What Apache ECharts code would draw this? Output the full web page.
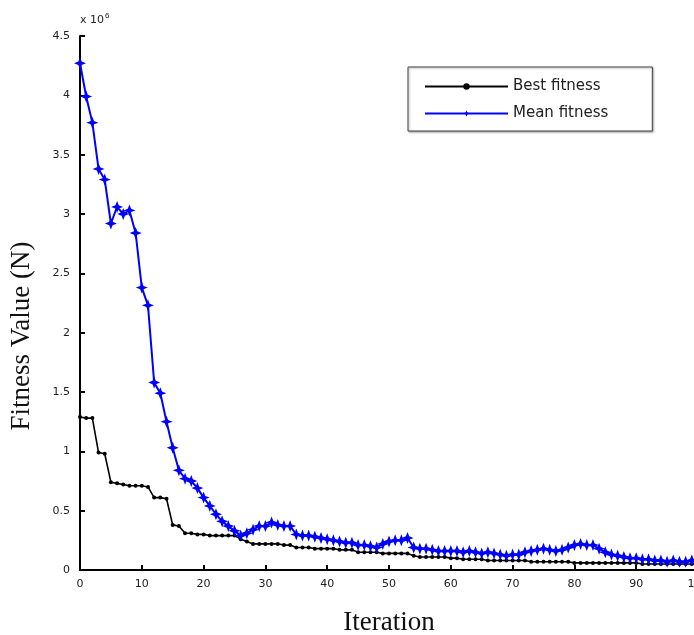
<!DOCTYPE html>
<html>
<head>
<meta charset="utf-8">
<script src="https://cdn.jsdelivr.net/npm/echarts@6/dist/echarts.min.js"></script>
<style>
  html, body { margin: 0; padding: 0; background: #fff; }
  #chart { width: 694px; height: 635px; }
</style>
</head>
<body>
<div id="chart"></div>
<script>
// iteration index 0..100, values in units of 10^6 N
const bestFitness = [
  1.29, 1.28, 1.28, 0.99, 0.98, 0.74, 0.73, 0.72, 0.71, 0.71,
  0.71, 0.70, 0.61, 0.61, 0.60, 0.38, 0.37, 0.31, 0.31, 0.30,
  0.30, 0.29, 0.29, 0.29, 0.29, 0.29, 0.26, 0.24, 0.22, 0.22,
  0.22, 0.22, 0.22, 0.21, 0.21, 0.19, 0.19, 0.19, 0.18, 0.18,
  0.18, 0.18, 0.17, 0.17, 0.17, 0.15, 0.15, 0.15, 0.15, 0.14,
  0.14, 0.14, 0.14, 0.14, 0.12, 0.11, 0.11, 0.11, 0.11, 0.11,
  0.10, 0.10, 0.09, 0.09, 0.09, 0.09, 0.08, 0.08, 0.08, 0.08,
  0.08, 0.08, 0.08, 0.07, 0.07, 0.07, 0.07, 0.07, 0.07, 0.07,
  0.06, 0.06, 0.06, 0.06, 0.06, 0.06, 0.06, 0.06, 0.06, 0.06,
  0.06, 0.05, 0.05, 0.05, 0.05, 0.05, 0.05, 0.05, 0.05, 0.05,
  0.05
];
const meanFitness = [
  4.27, 3.99, 3.77, 3.38, 3.29, 2.92, 3.06, 3.00, 3.03, 2.84,
  2.38, 2.23, 1.58, 1.49, 1.25, 1.03, 0.84, 0.77, 0.75, 0.69,
  0.61, 0.54, 0.47, 0.41, 0.37, 0.33, 0.29, 0.31, 0.34, 0.37,
  0.37, 0.40, 0.38, 0.37, 0.37, 0.30, 0.29, 0.29, 0.28, 0.27,
  0.26, 0.25, 0.24, 0.23, 0.23, 0.21, 0.21, 0.20, 0.19, 0.22,
  0.24, 0.25, 0.25, 0.27, 0.19, 0.18, 0.18, 0.17, 0.16, 0.16,
  0.16, 0.16, 0.15, 0.16, 0.15, 0.14, 0.15, 0.14, 0.13, 0.12,
  0.13, 0.13, 0.15, 0.16, 0.17, 0.18, 0.17, 0.16, 0.17, 0.19,
  0.21, 0.22, 0.21, 0.21, 0.18, 0.15, 0.13, 0.12, 0.11, 0.10,
  0.10, 0.09, 0.09, 0.08, 0.08, 0.07, 0.08, 0.07, 0.07, 0.08,
  0.07
];
const seriesNames = ['Best fitness', 'Mean fitness'];

const starPath = 'path://M0,-10 L2.8,-2.8 L10,0 L2.8,2.8 L0,10 L-2.8,2.8 L-10,0 L-2.8,-2.8 Z';

const chart = echarts.init(document.getElementById('chart'));
const options = {
  backgroundColor: '#fff',
  animation: false,
  grid: { left: 80, top: 36, right: -4, bottom: 65, outerBoundsMode: 'none', containLabel: false },
  legend: {
    orient: 'vertical',
    left: 408,
    top: 67,
    padding: [12, 44, 10, 16],
    itemWidth: 83,
    itemHeight: 8,
    itemGap: 12,
    borderColor: '#444',
    borderWidth: 1,
    backgroundColor: '#fff',
    shadowColor: 'rgba(0,0,0,0.35)',
    shadowBlur: 2,
    shadowOffsetX: 1,
    shadowOffsetY: 1,
    textStyle: { fontFamily: 'DejaVu Sans', fontSize: 15, color: '#222' },
    data: seriesNames
  },
  graphic: [
    {
      type: 'text',
      left: 80,
      top: 12,
      style: {
        text: 'x 10{sup|6}',
        fontFamily: 'DejaVu Sans',
        fontSize: 11,
        fill: '#222',
        rich: { sup: { fontSize: 8, verticalAlign: 'top', padding: [0, 0, 8, 1] } }
      }
    },
    {
      type: 'text',
      x: 22,
      y: 336,
      rotation: Math.PI / 2,
      style: {
        text: 'Fitness Value (N)',
        fontFamily: 'Liberation Serif',
        fontSize: 27,
        fill: '#111',
        align: 'center',
        verticalAlign: 'middle'
      }
    }
  ],
  xAxis: {
    type: 'value',
    min: 0,
    max: 100,
    interval: 10,
    name: 'Iteration',
    nameLocation: 'middle',
    nameGap: 39,
    nameTextStyle: { fontFamily: 'Liberation Serif', fontSize: 27, color: '#111' },
    axisLine: { lineStyle: { color: '#000', width: 2 } },
    axisTick: { inside: true, length: 5, lineStyle: { color: '#000', width: 2 } },
    axisLabel: { fontFamily: 'DejaVu Sans', fontSize: 11, color: '#222', margin: 9 },
    splitLine: { show: false }
  },
  yAxis: {
    type: 'value',
    min: 0,
    max: 4.5,
    interval: 0.5,
    axisLine: { show: true, lineStyle: { color: '#000', width: 2 } },
    axisTick: { show: true, inside: true, length: 5, lineStyle: { color: '#000', width: 2 } },
    axisLabel: { fontFamily: 'DejaVu Sans', fontSize: 11, color: '#222', margin: 10 },
    splitLine: { show: false }
  },
  series: [
    {
      name: seriesNames[0],
      type: 'line',
      data: bestFitness.map((v, i) => [i, v]),
      symbol: 'circle',
      symbolSize: 4,
      showAllSymbol: true,
      itemStyle: { color: '#000' },
      lineStyle: { color: '#000', width: 1.6 },
      z: 2
    },
    {
      name: seriesNames[1],
      type: 'line',
      data: meanFitness.map((v, i) => [i, v]),
      symbol: starPath,
      symbolSize: 12,
      showAllSymbol: true,
      itemStyle: { color: '#0000ff' },
      lineStyle: { color: '#0000ff', width: 2 },
      z: 3
    }
  ]
};
chart.setOption(options);
</script>
</body>
</html>
